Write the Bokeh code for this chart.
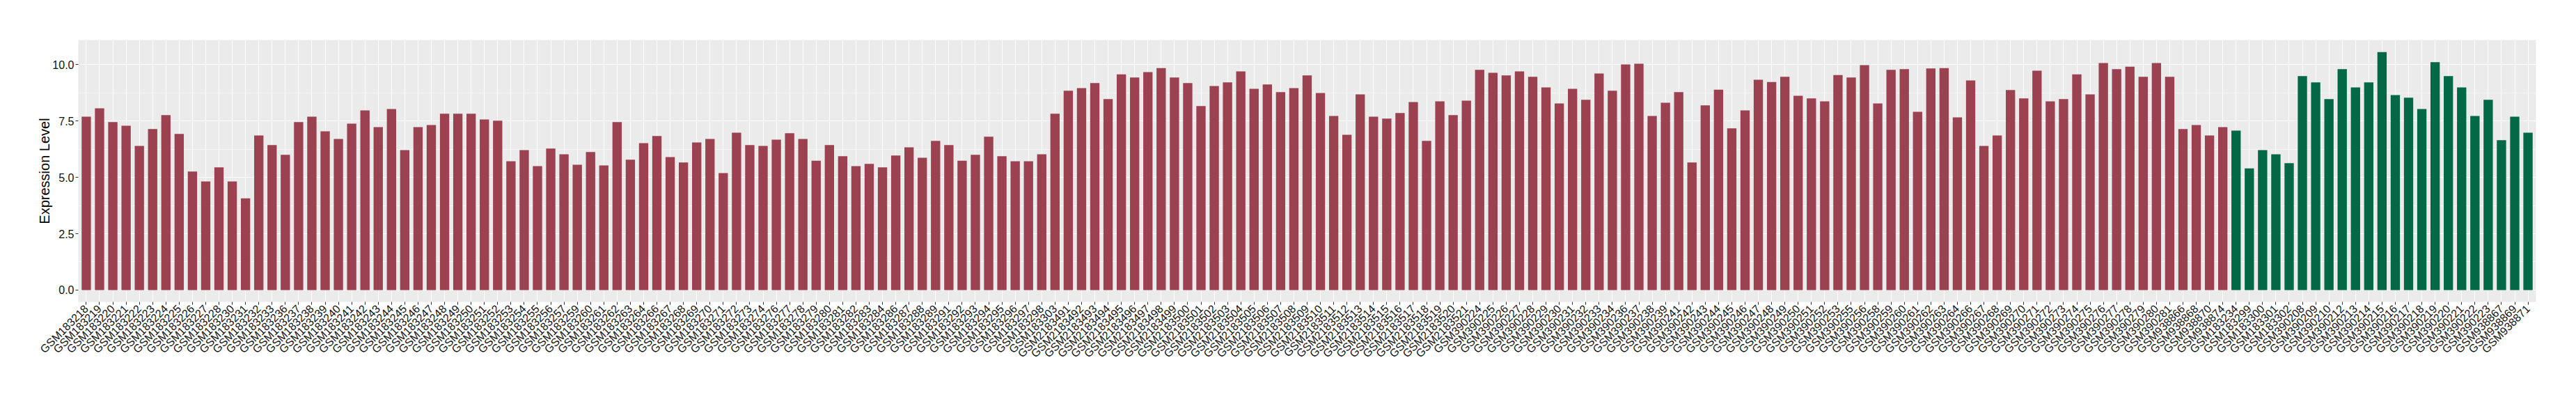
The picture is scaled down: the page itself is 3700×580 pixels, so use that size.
import math
from bokeh.plotting import figure
from bokeh.models import ColumnDataSource, FactorRange, Range1d, FixedTicker, NumeralTickFormatter
from bokeh.embed import file_html
from bokeh.resources import INLINE

red_samples = [
    "GSM183218", "GSM183219", "GSM183220", "GSM183221", "GSM183222", "GSM183223", "GSM183224",
    "GSM183225", "GSM183226", "GSM183227", "GSM183228", "GSM183230", "GSM183231", "GSM183232",
    "GSM183233", "GSM183236", "GSM183237", "GSM183238", "GSM183239", "GSM183240", "GSM183241",
    "GSM183242", "GSM183243", "GSM183244", "GSM183245", "GSM183246", "GSM183247", "GSM183248",
    "GSM183249", "GSM183250", "GSM183251", "GSM183252", "GSM183253", "GSM183254", "GSM183255",
    "GSM183256", "GSM183257", "GSM183259", "GSM183260", "GSM183261", "GSM183262", "GSM183263",
    "GSM183264", "GSM183266", "GSM183267", "GSM183268", "GSM183269", "GSM183270", "GSM183271",
    "GSM183272", "GSM183273", "GSM183274", "GSM183276", "GSM183277", "GSM183278", "GSM183279",
    "GSM183280", "GSM183281", "GSM183282", "GSM183283", "GSM183284", "GSM183286", "GSM183287",
    "GSM183288", "GSM183289", "GSM183291", "GSM183292", "GSM183293", "GSM183294", "GSM183295",
    "GSM183296", "GSM183297", "GSM183298", "GSM183303",
    "GSM2183491", "GSM2183492", "GSM2183493", "GSM2183494", "GSM2183495", "GSM2183496",
    "GSM2183497", "GSM2183498", "GSM2183499", "GSM2183500", "GSM2183501", "GSM2183502",
    "GSM2183503", "GSM2183504", "GSM2183505", "GSM2183506", "GSM2183507", "GSM2183508",
    "GSM2183509", "GSM2183510", "GSM2183511", "GSM2183512", "GSM2183513", "GSM2183514",
    "GSM2183515", "GSM2183516", "GSM2183517", "GSM2183518", "GSM2183519", "GSM2183520",
    "GSM2183521",
    "GSM390224", "GSM390225", "GSM390226", "GSM390227", "GSM390228", "GSM390229", "GSM390230",
    "GSM390231", "GSM390232", "GSM390233", "GSM390234", "GSM390236", "GSM390237", "GSM390238",
    "GSM390239", "GSM390241", "GSM390242", "GSM390243", "GSM390244", "GSM390245", "GSM390246",
    "GSM390247", "GSM390248", "GSM390249", "GSM390250", "GSM390251", "GSM390252", "GSM390253",
    "GSM390255", "GSM390256", "GSM390258", "GSM390259", "GSM390260", "GSM390261", "GSM390262",
    "GSM390263", "GSM390264", "GSM390266", "GSM390267", "GSM390268", "GSM390269", "GSM390270",
    "GSM390271", "GSM390272", "GSM390273", "GSM390274", "GSM390275", "GSM390276", "GSM390277",
    "GSM390278", "GSM390279", "GSM390280", "GSM390281",
    "GSM938866", "GSM938868", "GSM938870", "GSM938874",
]
red_values = [
    7.69, 8.06, 7.45, 7.29, 6.39, 7.14, 7.76,
    6.93, 5.26, 4.82, 5.44, 4.82, 4.07, 6.86,
    6.43, 6.00, 7.45, 7.69, 7.04, 6.70, 7.38,
    7.97, 7.23, 8.03, 6.21, 7.23, 7.32, 7.82,
    7.82, 7.82, 7.57, 7.51, 5.71, 6.21, 5.50,
    6.28, 6.02, 5.56, 6.12, 5.53, 7.45, 5.78,
    6.52, 6.83, 5.90, 5.66, 6.55, 6.70, 5.19,
    6.98, 6.43, 6.39, 6.67, 6.96, 6.70, 5.74,
    6.43, 5.94, 5.50, 5.60, 5.44, 5.97, 6.33,
    5.87, 6.62, 6.43, 5.74, 6.00, 6.80, 5.94,
    5.71, 5.71, 6.02, 7.82,
    8.84, 8.96, 9.18, 8.47, 9.57, 9.43,
    9.67, 9.85, 9.43, 9.18, 8.16, 9.05,
    9.21, 9.70, 8.93, 9.12, 8.78, 8.96,
    9.52, 8.74, 7.72, 6.89, 8.68, 7.69,
    7.61, 7.85, 8.34, 6.62, 8.37, 7.76,
    8.40,
    9.77, 9.64, 9.52, 9.70, 9.46, 8.99, 8.28,
    8.93, 8.44, 9.61, 8.84, 10.01, 10.04, 7.72,
    8.31, 8.78, 5.66, 8.19, 8.89, 7.17, 7.97,
    9.33, 9.23, 9.46, 8.62, 8.50, 8.37, 9.54,
    9.43, 9.98, 8.28, 9.77, 9.80, 7.91, 9.83,
    9.85, 7.66, 9.30, 6.39, 6.86, 8.87, 8.50,
    9.73, 8.37, 8.47, 9.57, 8.68, 10.07, 9.80,
    9.91, 9.46, 10.07, 9.46,
    7.14, 7.32, 6.86, 7.23,
]

green_samples = [
    "GSM183234", "GSM183299", "GSM183300", "GSM183301", "GSM183302",
    "GSM390208", "GSM390209", "GSM390210", "GSM390212", "GSM390213", "GSM390214",
    "GSM390215", "GSM390216", "GSM390217", "GSM390218", "GSM390219", "GSM390220",
    "GSM390221", "GSM390222", "GSM390223",
    "GSM938867", "GSM938869", "GSM938871",
]
green_values = [
    7.07, 5.40, 6.21, 6.02, 5.63,
    9.49, 9.21, 8.47, 9.80, 8.99, 9.21,
    10.56, 8.65, 8.53, 8.03, 10.11, 9.49,
    8.99, 7.72, 8.44,
    6.65, 7.69, 6.98,
]

y_ticks = [0, 2.5, 5, 7.5, 10]
y_minor = [1.25, 3.75, 6.25, 8.75]

RED = "#9B4150"
GREEN = "#036846"

factors = red_samples + green_samples
n = len(factors)

x_range = FactorRange(factors=factors, range_padding=0.2 / n, range_padding_units="percent")

p = figure(
    x_range=x_range,
    y_range=Range1d(-0.528, 11.09),
    frame_width=3530, frame_height=376,
    min_border_left=112, min_border_right=50, min_border_top=57, min_border_bottom=130,
    output_backend="svg", toolbar_location=None,
)

p.vbar(x="s", top="v", width=0.7, source=ColumnDataSource(dict(s=red_samples, v=red_values)),
       fill_color=RED, line_color=None)
p.vbar(x="s", top="v", width=0.7, source=ColumnDataSource(dict(s=green_samples, v=green_values)),
       fill_color=GREEN, line_color=None)

p.background_fill_color = "#EBEBEB"
p.border_fill_color = "white"
p.outline_line_color = None

p.xgrid.grid_line_color = "white"
p.xgrid.grid_line_width = 1.1
p.ygrid.grid_line_color = "white"
p.ygrid.grid_line_width = 1.1
p.ygrid.minor_grid_line_color = "white"
p.ygrid.minor_grid_line_width = 0.55

p.yaxis.ticker = FixedTicker(ticks=y_ticks, minor_ticks=y_minor)
p.yaxis.formatter = NumeralTickFormatter(format="0.0")

for ax in (p.xaxis[0], p.yaxis[0]):
    ax.axis_line_color = None
    ax.major_tick_line_color = "#333333"
    ax.major_tick_line_width = 1.1
    ax.major_tick_out = 4
    ax.major_tick_in = 0
    ax.minor_tick_line_color = None
    ax.major_label_text_font = "Liberation Sans"
    ax.major_label_text_color = "#111111"

p.xaxis.major_label_text_font_size = "16px"
p.xaxis.major_label_orientation = math.pi / 4
p.xaxis.major_label_standoff = 3
p.xaxis.group_text_font_size = "0px"

p.yaxis.major_label_text_font_size = "16px"
p.yaxis.major_label_standoff = 2
p.yaxis.axis_label = "Expression Level"
p.yaxis.axis_label_text_font = "Liberation Sans"
p.yaxis.axis_label_text_font_size = "20px"
p.yaxis.axis_label_text_font_style = "normal"
p.yaxis.axis_label_text_color = "#000000"
p.yaxis.axis_label_standoff = -3

open("out.html", "w").write(file_html(p, INLINE))
